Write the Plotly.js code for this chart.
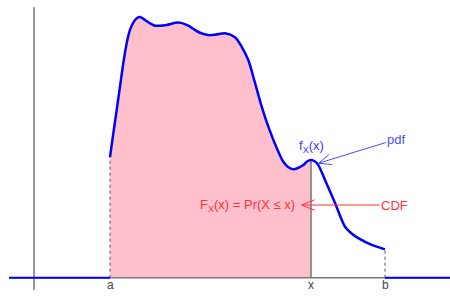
<!DOCTYPE html>
<html><head><meta charset="utf-8">
<script src="https://cdn.plot.ly/plotly-3.0.1.min.js"></script>
<style>html,body{margin:0;padding:0;background:#fff}#chart{width:450px;height:301px}</style>
</head><body><div id="chart"></div>
<script>
// density curve f_X over [a, b] (arbitrary units)
const curveX = [2.000, 2.087, 2.176, 2.263, 2.350, 2.439, 2.526, 2.613, 2.703, 2.808, 2.921, 3.053, 3.184, 3.297, 3.492, 3.797, 4.018, 4.368, 4.587, 4.789, 5.026, 5.289, 5.466, 5.639, 5.816, 5.992, 6.166, 6.387, 6.561, 6.684, 6.824, 6.947, 7.087, 7.184, 7.290, 7.395, 7.482, 7.658, 7.921, 8.184, 8.342, 8.534, 8.887, 9.237];
const curveY = [0.464, 0.555, 0.645, 0.735, 0.825, 0.902, 0.953, 0.981, 0.998, 1.002, 0.991, 0.978, 0.969, 0.969, 0.972, 0.981, 0.972, 0.942, 0.933, 0.935, 0.940, 0.925, 0.888, 0.837, 0.749, 0.658, 0.581, 0.499, 0.446, 0.426, 0.417, 0.422, 0.433, 0.447, 0.453, 0.447, 0.433, 0.376, 0.287, 0.196, 0.172, 0.152, 0.126, 0.109];
const markNames = ['a', 'x', 'b'];
const markX = [2.000, 7.290, 9.237];
const axisLeft = -0.658, axisRight = 10.95, axisTop = 1.04, axisBottom = -0.047;

const aVal = markX[0], xVal = markX[1], bVal = markX[2];
const yAt = v => curveY[curveX.indexOf(v)];
const fillX = curveX.filter(v => v <= xVal);
const fillY = curveY.slice(0, fillX.length);

const BLUE = '#0000ff', GRAY = '#777777';
const traces = [
  {x: fillX, y: fillY, mode: 'lines', line: {width: 0, shape: 'spline'}, fill: 'tozeroy', fillcolor: '#ffc0cb'},
  {x: [axisLeft, axisRight], y: [0, 0], mode: 'lines', line: {color: GRAY, width: 1.5}},
  {x: [0, 0], y: [axisBottom, axisTop], mode: 'lines', line: {color: GRAY, width: 1.5}},
  {x: [aVal, aVal], y: [0, yAt(aVal)], mode: 'lines', line: {color: '#555', width: 1, dash: 'dot'}},
  {x: [bVal, bVal], y: [0, yAt(bVal)], mode: 'lines', line: {color: '#555', width: 1, dash: 'dot'}},
  {x: [xVal, xVal], y: [0, yAt(xVal)], mode: 'lines', line: {color: GRAY, width: 1.5}},
  {x: [axisLeft, aVal], y: [0, 0], mode: 'lines', line: {color: BLUE, width: 2}},
  {x: [bVal, axisRight], y: [0, 0], mode: 'lines', line: {color: BLUE, width: 2}},
  {x: curveX, y: curveY, mode: 'lines', line: {color: BLUE, width: 2.5, shape: 'spline', smoothing: 0.8}}
];

const FONT = 'Liberation Sans, Arial, sans-serif';
const annotations = [];
const shapes = [];
markNames.forEach((n, i) => annotations.push({
  x: markX[i], y: 0, text: n, showarrow: false, yanchor: 'top', yshift: 2,
  font: {family: FONT, size: 12, color: '#444'}
}));
annotations.push({x: xVal, y: 0.506, text: 'f<sub>X</sub>(x)', showarrow: false,
  font: {family: FONT, size: 13, color: '#3a3aff'}});
annotations.push({x: 5.605, y: 0.2796, text: 'F<sub>X</sub>(x) = Pr(X ≤ x)', showarrow: false,
  font: {family: FONT, size: 13, color: '#ff3333'}});

function arrow(tx, ty, label, ax, ay, color) {
  annotations.push({x: tx, y: ty, text: label, showarrow: true, arrowhead: 0, arrowwidth: 1,
    arrowcolor: color, ax: ax, ay: ay, font: {family: FONT, size: 13, color: color}});
  const len = Math.hypot(ax, ay), ux = ax / len, uy = ay / len, L = 14, th = 22 * Math.PI / 180;
  [th, -th].forEach(t => {
    const rx = ux * Math.cos(t) - uy * Math.sin(t), ry = ux * Math.sin(t) + uy * Math.cos(t);
    shapes.push({type: 'line', xref: 'x', yref: 'y', xsizemode: 'pixel', ysizemode: 'pixel',
      xanchor: tx, yanchor: ty, x0: 0, y0: 0, x1: rx * L, y1: -ry * L,
      line: {color: color, width: 1}});
  });
}
arrow(7.482, 0.440, 'pdf', 78, -24, '#4d4dff');
arrow(7.045, 0.2796, 'CDF', 93, 0, '#ff3333');

const layout = {
  width: 450, height: 301, margin: {l: 0, r: 0, t: 0, b: 0},
  paper_bgcolor: '#fff', plot_bgcolor: '#fff', showlegend: false,
  xaxis: {range: [-0.8947, 10.947], visible: false, fixedrange: true},
  yaxis: {range: [-0.0896, 1.068], visible: false, fixedrange: true},
  annotations: annotations, shapes: shapes
};
Plotly.newPlot('chart', traces, layout, {staticPlot: true, displayModeBar: false});
</script></body></html>
